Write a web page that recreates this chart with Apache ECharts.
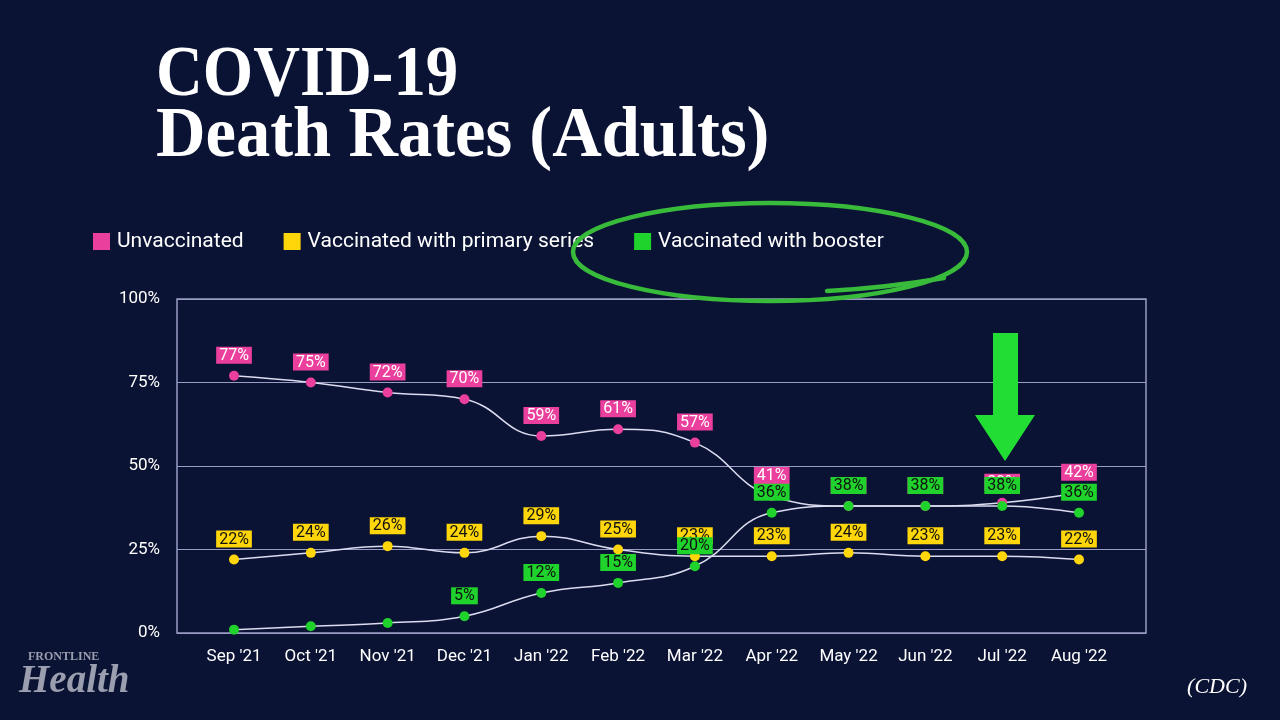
<!DOCTYPE html>
<html>
<head>
<meta charset="utf-8">
<style>
html,body{margin:0;padding:0;background:#0b1334;}
#chart{width:1280px;height:720px;}
</style>
<script src="https://cdn.jsdelivr.net/npm/echarts@6/dist/echarts.min.js"></script>
</head>
<body>
<div id="chart"></div>
<script>
const categories = ["Sep '21","Oct '21","Nov '21","Dec '21","Jan '22","Feb '22","Mar '22","Apr '22","May '22","Jun '22","Jul '22","Aug '22"];
const unvaccinated = [77,75,72,70,59,61,57,41,38,38,39,42];
const primarySeries = [22,24,26,24,29,25,23,23,24,23,23,22];
const booster = [1,2,3,5,12,15,20,36,38,38,38,36];
const boosterHiddenLabels = [0,1,2];
const yTicks = [0,25,50,75,100];
const seriesNames = ['Unvaccinated','Vaccinated with primary series','Vaccinated with booster'];
const titleLines = ['COVID-19', 'Death Rates (Adults)'];

const PINK = '#ea3f9c', YELLOW = '#ffd60a', GREEN = '#1fd22c';
const LINE = '#dcdcf0';
const FONT = 'Roboto';

function mkSeries(name, values, color, textColor, z, hidden) {
  return {
    type: 'line', name: name, xAxisIndex: 1, yAxisIndex: 1, z: z,
    data: values.map((v, i) => hidden && hidden.indexOf(i) >= 0 ? {value: v, label: {show: false}} : v),
    smooth: 0.45, symbol: 'circle', symbolSize: 10,
    itemStyle: {color: color},
    lineStyle: {color: LINE, width: 1.5},
    label: {show: true, position: 'top', distance: 7, formatter: '{c}%',
      backgroundColor: color, color: textColor, padding: [1, 3, 0, 3],
      fontSize: 16, fontFamily: FONT},
    emphasis: {disabled: true}, animation: false
  };
}

const chart = echarts.init(document.getElementById('chart'));
chart.setOption({
  backgroundColor: '#0b1334',
  animation: false,
  legend: {
    left: 88, top: 226, icon: 'rect', itemWidth: 17, itemHeight: 17, itemGap: 40,
    data: seriesNames,
    textStyle: {color: '#ffffff', fontSize: 21, fontFamily: FONT, padding: [0, 0, 0, 2]}
  },
  grid: [
    {left: 177, right: 134, top: 299, bottom: 87, show: true, borderColor: '#9a9cc4', borderWidth: 1.5},
    {left: 195.6, right: 162.6, top: 299, bottom: 87}
  ],
  xAxis: [
    {gridIndex: 0, type: 'value', min: 0, max: 1, show: false},
    {gridIndex: 1, type: 'category', data: categories, boundaryGap: true,
      axisLine: {show: false}, axisTick: {show: false},
      axisLabel: {color: '#ffffff', fontSize: 17, fontFamily: FONT, margin: 15}}
  ],
  yAxis: [
    {gridIndex: 0, type: 'value', min: yTicks[0], max: yTicks[yTicks.length - 1], interval: 25,
      axisLine: {show: false}, axisTick: {show: false},
      axisLabel: {color: '#ffffff', fontSize: 17, fontFamily: FONT, margin: 17, formatter: '{value}%'},
      splitLine: {lineStyle: {color: '#9a9cc4', width: 1.2}}},
    {gridIndex: 1, type: 'value', min: 0, max: 100, show: false}
  ],
  series: [
    mkSeries(seriesNames[0], unvaccinated, PINK, '#ffffff', 3),
    mkSeries(seriesNames[1], primarySeries, YELLOW, '#111111', 4),
    mkSeries(seriesNames[2], booster, GREEN, '#111111', 5, boosterHiddenLabels)
  ],
  graphic: [
    {type: 'text', x: 156, y: 112, scaleX: 0.912, style: {text: titleLines[0], fill: '#ffffff',
      font: 'bold 71px "Liberation Serif"', verticalAlign: 'bottom'}},
    {type: 'text', x: 156, y: 173, scaleX: 0.966, style: {text: titleLines[1], fill: '#ffffff',
      font: 'bold 71px "Liberation Serif"', verticalAlign: 'bottom'}},
    {type: 'ellipse', shape: {cx: 770, cy: 252, rx: 197, ry: 49},
      style: {fill: 'none', stroke: '#38bb3a', lineWidth: 4.5}, z: 10},
    {type: 'bezierCurve', shape: {x1: 827, y1: 291, x2: 944, y2: 278, cpx1: 885, cpy1: 288},
      style: {fill: 'none', stroke: '#38bb3a', lineWidth: 4.5, lineCap: 'round'}, z: 10},
    {type: 'polygon', shape: {points: [[993,333],[1018,333],[1018,415],[1035,415],[1005,461],[975,415],[993,415]]},
      style: {fill: '#22dd33'}, z: 10},
    {type: 'text', left: 28, top: 651, style: {text: 'FRONTLINE', fill: '#9a9eae', font: 'bold 12px "Liberation Serif"'}},
    {type: 'text', left: 19, top: 662, style: {text: 'Health', fill: '#9a9eae', font: 'italic bold 39px "Liberation Serif"'}},
    {type: 'text', right: 33, top: 676, style: {text: '(CDC)', fill: '#ffffff', font: 'italic 22px "Liberation Serif"'}}
  ]
});
</script>
</body>
</html>
